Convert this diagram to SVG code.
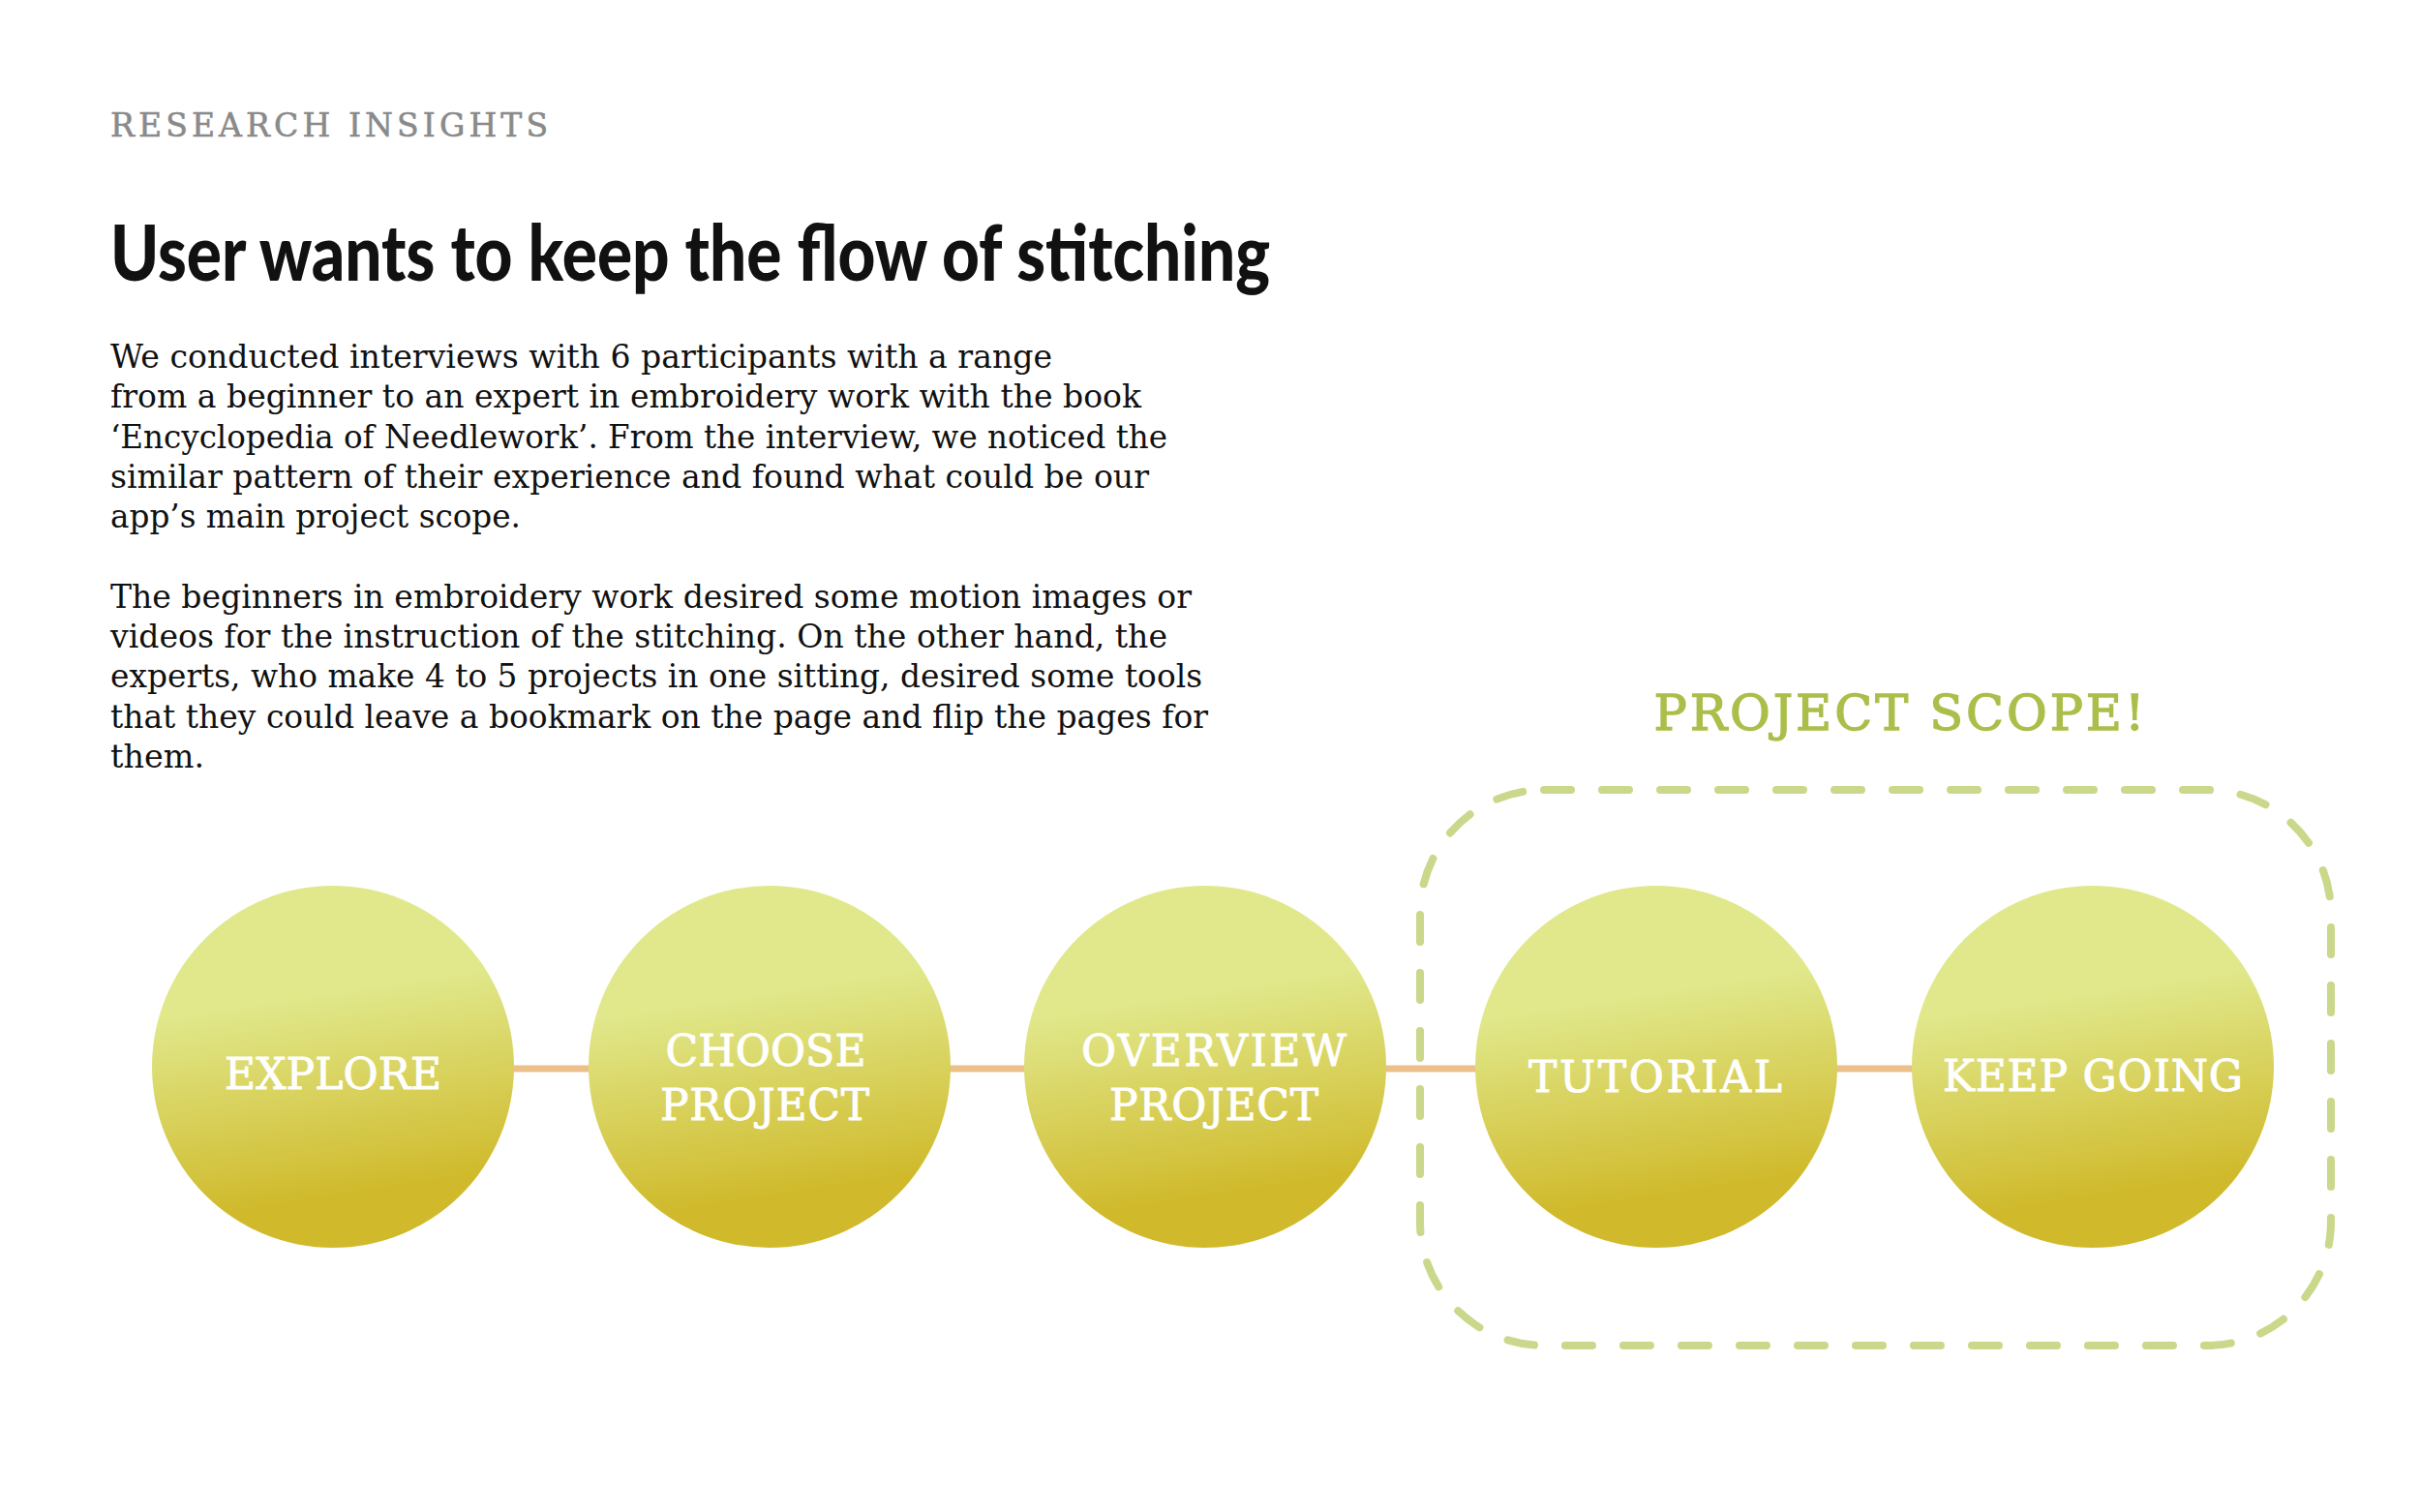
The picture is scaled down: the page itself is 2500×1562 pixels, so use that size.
<svg xmlns="http://www.w3.org/2000/svg" width="2500" height="1562" viewBox="0 0 2500 1562">
<defs>
<linearGradient id="g" x1="0.45" y1="0.2" x2="0.55" y2="0.85">
<stop offset="0.15" stop-color="#E0E88B"/>
<stop offset="1" stop-color="#D0BA2C"/>
</linearGradient>
<style>
.kicker{font-family:"DejaVu Serif","Liberation Serif",serif;font-size:33px;fill:#8A8A8A;stroke:#8A8A8A;stroke-width:0.6px}
.title{font-family:Lato,"Liberation Sans",sans-serif;font-weight:900;font-size:80px;fill:#111}
.body{font-family:"DejaVu Serif","Liberation Serif",serif;font-size:33.5px;fill:#111}
.lbl{font-family:"DejaVu Serif","Liberation Serif",serif;font-size:44px;fill:#fff;stroke:#fff;stroke-width:0.9px;text-anchor:middle}
.scope{font-family:"DejaVu Serif","Liberation Serif",serif;font-size:51px;fill:#AABF4A;stroke:#AABF4A;stroke-width:1.3px;text-anchor:middle}
.node circle{fill:url(#g)}
.conn line{stroke:#EBC08A;stroke-width:7}
</style>
</defs>
<rect width="2500" height="1562" fill="#fff"/>
<text class="kicker" x="114" y="141" textLength="452">RESEARCH INSIGHTS</text>
<text class="title" x="114" y="290" textLength="1198" lengthAdjust="spacingAndGlyphs">User wants to keep the flow of stitching</text>
<g id="body-text">
<text class="body" x="114" y="380" textLength="973" lengthAdjust="spacingAndGlyphs">We conducted interviews with 6 participants with a range</text>
<text class="body" x="114" y="421.3" textLength="1065" lengthAdjust="spacingAndGlyphs">from a beginner to an expert in embroidery work with the book</text>
<text class="body" x="114" y="462.6" textLength="1092" lengthAdjust="spacingAndGlyphs">‘Encyclopedia of Needlework’. From the interview, we noticed the</text>
<text class="body" x="114" y="503.9" textLength="1073" lengthAdjust="spacingAndGlyphs">similar pattern of their experience and found what could be our</text>
<text class="body" x="114" y="545.2" textLength="424" lengthAdjust="spacingAndGlyphs">app’s main project scope.</text>
<text class="body" x="114" y="627.8" textLength="1117" lengthAdjust="spacingAndGlyphs">The beginners in embroidery work desired some motion images or</text>
<text class="body" x="114" y="669.1" textLength="1092" lengthAdjust="spacingAndGlyphs">videos for the instruction of the stitching. On the other hand, the</text>
<text class="body" x="114" y="710.4" textLength="1128" lengthAdjust="spacingAndGlyphs">experts, who make 4 to 5 projects in one sitting, desired some tools</text>
<text class="body" x="114" y="751.7" textLength="1134" lengthAdjust="spacingAndGlyphs">that they could leave a bookmark on the page and flip the pages for</text>
<text class="body" x="114" y="793" textLength="97" lengthAdjust="spacingAndGlyphs">them.</text>
</g>
<g id="connectors" class="conn">
<line x1="530" y1="1104" x2="609" y2="1104"/>
<line x1="981" y1="1104" x2="1059" y2="1104"/>
<line x1="1432" y1="1104" x2="1525" y2="1104"/>
<line x1="1897" y1="1104" x2="1976" y2="1104"/>
</g>
<g id="scope">
<text class="scope" x="1962" y="754" textLength="507">PROJECT SCOPE!</text>
<rect x="1467" y="816" width="941" height="574" rx="128" ry="128" fill="none" stroke="#C9D88A" stroke-width="8" stroke-linecap="round" stroke-dasharray="28 32"/>
</g>
<g id="explore" class="node">
<circle cx="344" cy="1102" r="187"/>
<text class="lbl" x="344" y="1125" textLength="224">EXPLORE</text>
</g>
<g id="choose-project" class="node">
<circle cx="795" cy="1102" r="187"/>
<text class="lbl" x="791" y="1101" textLength="207">CHOOSE</text>
<text class="lbl" x="790" y="1157" textLength="216">PROJECT</text>
</g>
<g id="overview-project" class="node">
<circle cx="1245" cy="1102" r="187"/>
<text class="lbl" x="1254" y="1101" textLength="274">OVERVIEW</text>
<text class="lbl" x="1254" y="1157" textLength="216">PROJECT</text>
</g>
<g id="tutorial" class="node">
<circle cx="1711" cy="1102" r="187"/>
<text class="lbl" x="1710" y="1128" textLength="262">TUTORIAL</text>
</g>
<g id="keep-going" class="node">
<circle cx="2162" cy="1102" r="187"/>
<text class="lbl" x="2162" y="1127" textLength="310">KEEP GOING</text>
</g>
</svg>
